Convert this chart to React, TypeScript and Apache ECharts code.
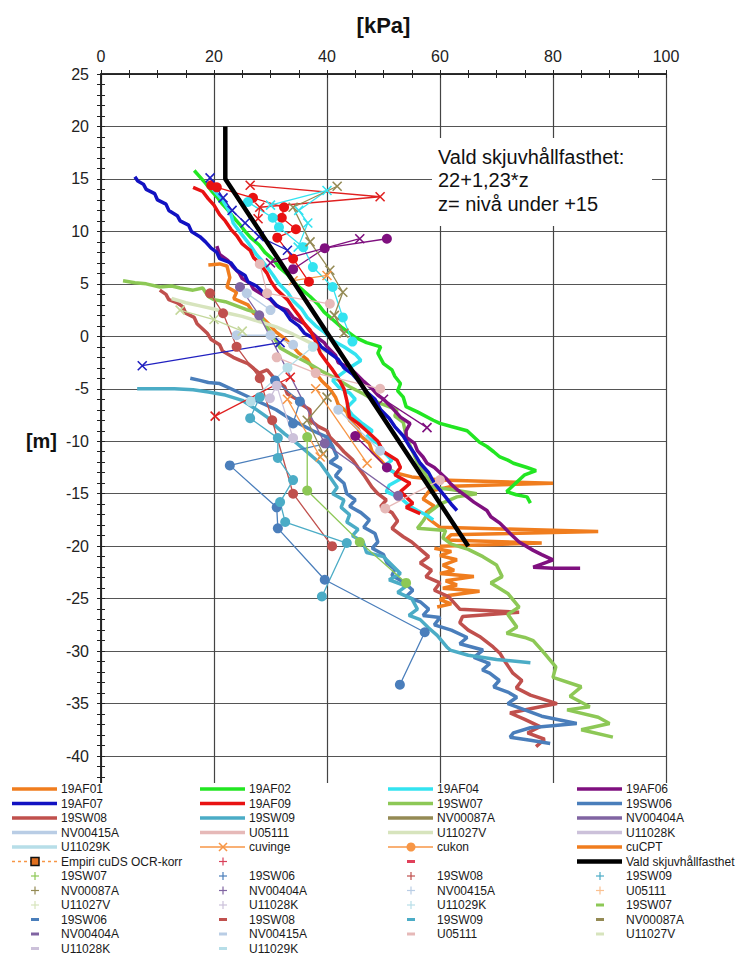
import React, { useEffect, useRef } from "react";
import * as echarts from "echarts";

const FONT = "'Liberation Sans', Arial, Helvetica, sans-serif";

// ---- axis ----
const xMin = 0, xMax = 100, xStep = 20;
const yMin = -45, yMax = 25, yStep = 5;

// ---- thick profiles [kPa, m] ----
const af01 = [[19,6.8],[21,6.9],[22.3,6.7],[22.8,5.6],[22.3,4.7],[24,4.2],[23.5,3.6],[26,3],[27,2.2],[28.5,1.8],[30,1],[31,0.4],[32.5,-0.2],[34,-1],[35,-1.6],[36.5,-2.2],[38,-3.5],[39,-4.2],[40.5,-5],[41.5,-5.8],[42,-6.5],[43.5,-7.2],[44,-8],[45.5,-8.8],[46,-9.5],[47.5,-10.2],[48,-11],[49.5,-11.8],[50.6,-12.5],[52,-13],[55,-13.4],[60,-13.7],[80,-14],[62,-14.3],[58,-14.8],[57,-15.5],[59,-16.2],[57.5,-16.8],[58,-17.4],[60,-18.2],[88,-18.6],[62,-18.9],[61,-19.4],[78,-19.7],[60,-20]];
const af02 = [[16.5,15.8],[17.5,15.2],[18.5,14.6],[19.5,13.9],[20.5,13.3],[21.5,12.6],[22.5,12],[23.5,11.3],[24.5,10.7],[25.5,10],[26.5,9.4],[28,8.7],[29,8],[30.5,7.3],[31.5,6.6],[33,5.9],[34,5.2],[35.5,4.5],[37,3.8],[38.5,3],[39.5,2.3],[41,1.6],[42.5,0.9],[44,0.3],[45,-0.1],[47,-0.6],[49.5,-1],[49,-1.6],[50,-2.6],[51.5,-3.2],[52,-3.8],[53,-4.5],[52.5,-5.2],[53.5,-5.8],[54,-6.7],[56,-7.2],[58.8,-8],[60,-8.3],[62,-8.6],[64.8,-9],[66,-9.6],[67,-10.1],[68.3,-10.5],[69.5,-11],[70.6,-11.5],[72,-11.8],[73,-12.1],[75.4,-12.5],[77,-12.8],[75,-13.2],[74,-13.7],[73,-14.2],[71.8,-14.8],[73.5,-15.1],[75.4,-15.3],[76,-15.9]];
const af04 = [[19.6,14.2],[20.5,13.6],[21.5,13],[22.3,12.3],[23,11.6],[23.4,10.8],[24.5,10],[25.8,9.1],[26.5,8.6],[27.5,7.8],[28.5,7.2],[29.4,6.6],[30.5,5.8],[31.5,5],[33,4.2],[34,3.4],[35.5,2.6],[36.5,1.8],[38,1],[39.5,0.4],[41,-0.4],[43,-1],[45,-1.7],[46,-2.3],[44,-3],[42.5,-3.6],[41,-4.2],[42,-4.8],[44,-5.4],[45,-6],[43.5,-6.8],[44.5,-7.5],[46,-8.2],[48,-9],[47,-9.6],[49,-10.2],[50,-11],[51.5,-11.8],[50,-12.4],[52,-13],[53,-13.6],[51,-14.2],[50.5,-14.8],[53,-15.4],[54.7,-16.2],[56,-16.6],[57.5,-17],[58.8,-17.5]];
const af06 = [[20.5,8.6],[21,7.8],[22.5,7.2],[23.4,6.6],[24.5,6],[25,5.5],[26.5,5],[27,4.5],[28.5,4],[30,3.5],[31,2.9],[33,2.5],[34,1.8],[36,1.2],[37,0.5],[38,0],[39.5,-0.6],[40,-1],[41.5,-1.8],[42,-2.5],[44,-3],[45,-3.5],[46.5,-4.3],[48,-5],[49,-5.6],[50,-6],[51.5,-6.8],[53,-7.7],[54.7,-8.3],[54,-9],[54,-9.6],[55.5,-10.2],[56,-10.9],[57,-11.5],[57.7,-12.1],[59,-12.5],[60,-13],[61,-13.5],[61.8,-14],[63,-14.6],[64.8,-15.3],[66,-15.8],[68.3,-16.6],[69,-17.2],[70.6,-17.8],[71.5,-18.3],[72.4,-18.8],[74,-19.6],[76.5,-20.4],[78,-20.8],[80,-21.3],[78,-21.7],[76.5,-22],[80,-22.1],[84.8,-22.1]];
const af07 = [[6,15.2],[6.5,14.8],[7.5,14.5],[8,14],[9.5,13.6],[10,13],[11.5,12.6],[12,12],[13.5,11.5],[14,11],[15.5,10.6],[16,10],[17.5,9.5],[18.5,9],[19.5,8.4],[20.5,8],[21,7.4],[23,7],[24,6.3],[25.5,5.8],[26,5.2],[27.5,4.8],[28.5,4.3],[30,3.6],[31,3],[32.5,2.4],[33.5,1.6],[35,1],[36,0.3],[38,-0.3],[39,-1],[40.5,-1.6],[42,-2.2],[43,-3],[44.5,-3.6],[46,-4.5],[47,-5.3],[48.5,-6],[49.5,-7],[51,-7.8],[52,-8.6],[53.5,-9.5],[54.5,-10.4],[55.5,-11.2],[56.5,-12.1],[58,-13],[59,-14],[60.5,-15],[62,-16],[63,-16.6]];
const af09 = [[16.3,14.2],[18,13.8],[19,13.1],[20,12.5],[21,11.6],[22,11],[23,10.2],[24,9.6],[25,8.8],[26.4,8.2],[27,7.5],[28,7],[29.4,6],[30,5.3],[31,4.5],[32,4],[33,3.5],[34,2.7],[35,2],[36,1.2],[37,0.6],[38,-0.5],[38.8,-1.6],[40,-2.5],[41,-3.2],[42,-4],[43,-5],[43.5,-6.1],[44,-7.7],[45.5,-8.3],[47,-9],[48,-9.5],[49,-10],[50,-11],[52.4,-11.8],[53,-12.5],[52,-13.2],[54.7,-14],[53,-14.8],[55.2,-15.9],[54,-16.3],[56.5,-16.9]];
const sw07 = [[3.9,5.3],[6,5.1],[8,5],[10.4,4.7],[12.5,4.8],[14,4.6],[16.3,4.4],[18,4.6],[19,3.8],[20,3.5],[22,3.3],[24,2.9],[26,2.5],[28,2.2],[29,1.2],[30.5,0],[31.7,-1.1],[34,-1.8],[36.5,-2.5],[39,-3.3],[41.5,-4],[44,-4.8],[46.5,-5.5],[49,-6.3],[52.4,-7],[52,-7.6],[53.5,-8.2],[54,-9.5],[55,-10.8],[56,-12],[57.5,-13.2],[58.8,-14.4],[62,-14.6],[66.5,-15],[63,-15.3],[60,-16],[58,-16.8],[57,-17.6],[56,-18.3],[61,-18.5],[60.5,-19.2],[62,-19.8],[65,-20.3],[67.6,-21],[70,-21.8],[71,-22.9],[69,-23.5],[72,-24.5],[74,-25.8],[72,-26.5],[73.6,-27.7],[71.8,-28.3],[75,-28.7],[76.5,-29],[78,-29.9],[80.5,-31.5],[80,-32.5],[85,-33.4],[83,-34.3],[86.5,-35.3],[82.5,-35.6],[88,-36.3],[90,-36.9],[85,-37.5],[90.6,-38.2]];
const sw06 = [[15.8,-4],[17.5,-4.2],[19,-4.4],[21,-4.5],[23,-5],[25,-5.5],[27,-6],[29,-6.5],[31,-7],[33,-7.7],[35,-8.3],[37.5,-9],[40,-9.6],[41,-10.5],[41.8,-11.5],[40.5,-12],[42.5,-12.6],[41.5,-13.3],[43,-14],[43.5,-15],[45,-15.6],[44,-16.2],[46,-16.8],[47.5,-17.5],[46.5,-18.2],[48.5,-18.8],[49,-19.6],[48,-20.2],[50,-20.8],[50.6,-21.6],[52,-22.2],[51.5,-22.8],[53.5,-23.4],[55.2,-24.2],[54,-24.8],[56.5,-25.3],[58,-26],[57,-26.6],[60,-26.8],[59,-27.5],[62,-28],[64.8,-28.7],[63.5,-29.3],[67.6,-29.9],[66,-30.6],[68.8,-31.2],[67.5,-31.8],[68.8,-32.1],[70.5,-32.8],[69.5,-33.4],[72,-33.9],[73.6,-34.4],[72,-35],[75,-35.6],[78,-36.2],[84.2,-36.9],[76,-37.3],[73,-37.8],[72.4,-38.2],[76,-38.5],[79.5,-38.8]];
const sw08 = [[10.4,4.4],[11.5,4],[12,3.5],[13.5,3.2],[14.5,2.8],[15,2.2],[16.5,1.8],[17,1.2],[18.8,0.3],[19.5,-0.3],[21,-0.8],[21.5,-1.4],[23.4,-2],[24.6,-2.3],[26,-2.6],[28,-3.5],[29.4,-3.2],[31,-4.2],[32.5,-4.8],[33,-5.5],[35,-6.1],[35.5,-6.5],[37,-7],[37,-8],[38.5,-8.6],[40,-9],[40.5,-9.6],[42,-10.4],[43,-11],[44.6,-11.8],[45.5,-12.5],[46.5,-13.2],[48,-14.4],[49,-15],[50.5,-15.6],[49.5,-16.2],[51.5,-16.8],[52.5,-17.6],[51.5,-18.3],[53.5,-19.1],[55,-19.6],[56.5,-20.3],[58,-21],[56.5,-21.6],[58.5,-22.3],[57.5,-22.9],[60,-23.5],[59,-24.2],[61.5,-24.8],[63.5,-26],[74,-26.3],[64,-26.7],[63.5,-27.3],[65,-28],[67,-28.6],[69.4,-29.6],[70.6,-30.2],[71.5,-31],[72.9,-32.1],[74.5,-32.8],[73.5,-33.5],[76,-34.2],[80.7,-35],[76,-35.5],[72.4,-35.9],[75,-36.5],[77.7,-37.2],[75.5,-37.8],[78.5,-38.4],[77,-39.1]];
const sw09 = [[6.4,-5],[10,-5],[13,-5],[16.3,-5.1],[19,-5.3],[22,-5.6],[25,-6.1],[27,-6.8],[29.4,-7.7],[31,-8.6],[32.5,-9.3],[34,-9.9],[36,-10.8],[37.5,-11.5],[38.8,-12.1],[40,-13],[41.8,-14.4],[41,-15],[43,-15.6],[42.5,-16.3],[44,-17],[43.5,-17.7],[45.5,-18.4],[44.5,-19],[46.4,-19.6],[47,-20.6],[50,-21],[53,-22.6],[51,-23.2],[54,-23.8],[52.5,-24.4],[55,-25],[56,-26],[54.5,-26.6],[56.5,-27],[58,-27.8],[59.5,-28.5],[61.2,-29.6],[61.8,-29.9],[65,-30.4],[70,-30.8],[76,-31.1]];
const u11027v = [[12.5,3.6],[15,3.2],[17.5,2.9],[20,2.6],[22.5,2.2],[25,1.9],[28,1.4],[31,0.9],[34,0.2],[37,-0.6],[40,-1.5]];
const cuCpt = [[59,-20.2],[62,-20.5],[60,-20.9],[63,-21.3],[60.5,-21.8],[62.5,-22.3],[60,-22.6],[66,-22.9],[61,-23.3],[63,-23.7],[60.5,-24],[67,-24.3],[61.5,-24.7],[60,-25.1],[62,-25.5],[59.5,-25.8]];
const vald = [[22,20],[22,15],[65,-20]];

// ---- cukon (circles) ----
const konRed = [[19.5,14.4],[20.5,14.2],[26.9,13.2],[32.4,12.3],[32,11.3],[34.5,10.2],[31.2,9.4],[34,7.4],[36.8,5.2]];
const konBrick = [[19.3,4.1],[21.6,2.2],[24,-1],[28.1,-4],[30.3,-8],[34,-15],[40.9,-20]];
const konSteelA = [[30.8,-4.2],[35.2,-6.2],[34,-8.3]];
const konSteelB = [[40,-10.2],[22.8,-12.3],[31.1,-16.3],[31.3,-18.3],[39.6,-23.2],[57.3,-28.2],[52.9,-33.2]];
const konTeal = [[28.1,-5.8],[26.4,-7.8],[31.3,-9.7],[31.3,-11.6],[34,-13.7],[31.7,-15.8],[32.6,-17.7],[43.5,-19.7],[39.1,-24.8]];
const konGreen = [[36.5,-9.6],[36.5,-14.7],[45.8,-19.6],[54,-23.5]];
const konPurple = [[34,6.4],[39.6,8.4],[50.6,9.3]];
const konPurple2 = [[45,-9.5],[50.6,-12.5]];
const konNV404 = [[24.6,4.7],[28,2],[39.6,-10.2],[52.6,-15.2]];
const konPink = [[28.1,6.9],[29.4,4.1],[40.5,3.1]];
const konPink2 = [[31.1,-2],[38,-3.5],[49.4,-5]];
const konPink3 = [[60,-13.7],[50.3,-16.4]];
const konLightBlue = [[24,0.1],[30,0.1],[34,-0.8]];
const konLightBlue2 = [[25.8,4.1],[30,2.5]];
const konLightBlue3 = [[42,-7],[49.4,-10.9]];
const konLavender = [[29.9,-5.9],[31.1,-4.7],[34,-9.7]];
const konCyan = [[26,12.8],[30.4,11.3],[31.5,10.4],[35.8,8.5],[37.5,6.6],[41,4.7],[42.8,1.8],[44.5,-0.5]];
const konLightCyan = [[37.5,-1],[33,-3],[26.5,-6.2]];

// ---- cuvinge (crosses) ----
const vaneRed = [[26.4,14.4],[49.4,13.3],[28.1,12.3],[27.8,11.2]];
const vaneRed2 = [[20.2,-7.6],[33.5,-3.9]];
const vaneBlue = [[19.3,15.1],[21.6,13.2],[23.2,12],[25.5,10.8],[28,9.5],[33,8.2]];
const vaneBlue2 = [[7.3,-2.8],[31.7,-0.6]];
const vaneCyan = [[30,12.5],[40,13.9],[35,12],[36.6,10.8],[34.9,8.5]];
const vaneOlive = [[41.8,14.3],[34,12.3],[37,9],[40.5,6.3],[42.8,4.2],[41.3,2],[43,0.3]];
const vaneOlive2 = [[40,-5.8],[36.5,-8],[39.3,-11.2]];
const vanePurple = [[30,7],[45.8,9.3]];
const vanePurple2 = [[50,-6],[57.7,-8.7]];
const vaneOrange = [[34,5.3],[40,5.8]];
const vaneOrange2 = [[38,-5],[47.1,-12.1]];
const vaneOrange3 = [[33,-6],[38.8,-11.5]];
const vanePale = [[14,2.5],[20,1.6],[25,0.5]];

// ---- legend ----
const legendNames = [
  "19AF01","19AF02","19AF04","19AF06",
  "19AF07","19AF09","19SW07","19SW06",
  "19SW08","19SW09","NV00087A","NV00404A",
  "NV00415A","U05111","U11027V","U11028K",
  "U11029K","cuvinge","cukon","cuCPT",
  "Empiri cuDS OCR-korr","","","Vald skjuvhållfasthet",
  "19SW07","19SW06","19SW08","19SW09",
  "NV00087A","NV00404A","NV00415A","U05111",
  "U11027V","U11028K","U11029K","19SW07",
  "19SW06","19SW08","19SW09","NV00087A",
  "NV00404A","NV00415A","U05111","U11027V",
  "U11028K","U11029K",
];
const legendKinds = [
  "line","line","line","line",
  "line","line","line","line",
  "line","line","line","line",
  "line","line","line","line",
  "line","vane","kon","line",
  "empiri","plus","dash","bold",
  "plus","plus","plus","plus",
  "plus","plus","plus","plus",
  "plus","plus","plus","dash",
  "dash","dash","dash","dash",
  "dash","dash","dash","dash",
  "dash","dash",
];
const legendColors = [
  "#F07D1E","#22E622","#33E3F0","#7F107F",
  "#1212C2","#E81212","#8DC856","#4A7EBB",
  "#C0504D","#4BACC6","#948A54","#8064A2",
  "#B9CDE5","#E6B9B8","#D7E4BD","#CCC1DA",
  "#B7DEE8","#F79646","#F79646","#F07D1E",
  "#F79646","#D9405A","#E0405A","#000000",
  "#8DC856","#4A7EBB","#C0504D","#4BACC6",
  "#948A54","#8064A2","#B9CDE5","#FAC090",
  "#D7E4BD","#CCC1DA","#B7DEE8","#8DC856",
  "#4A7EBB","#C0504D","#4BACC6","#948A54",
  "#8064A2","#B9CDE5","#E6B9B8","#D7E4BD",
  "#CCC1DA","#B7DEE8",
];

const X_PATH = "path://M0,0L10,10M10,0L0,10";

function profile(name: string, color: string, data: number[][], width = 3.5, z = 2) {
  return {
    type: "line", name, data, symbol: "none", showSymbol: false,
    lineStyle: { color, width }, itemStyle: { color }, z, silent: true,
  };
}
function kon(color: string, data: number[][]) {
  return {
    type: "line", name: "cukon", data, symbol: "circle", symbolSize: 10, showSymbol: true,
    lineStyle: { color, width: 1.3 }, itemStyle: { color }, z: 3, silent: true,
  };
}
function vane(color: string, data: number[][]) {
  return {
    type: "line", name: "cuvinge", data, symbol: X_PATH, symbolSize: 9, showSymbol: true,
    lineStyle: { color, width: 1.3 },
    itemStyle: { color, borderColor: color, borderWidth: 1.6 }, z: 3, silent: true,
  };
}

function buildLegend() {
  const colX = [12, 200, 388, 577];
  const els: any[] = [];
  legendNames.forEach((name, i) => {
    const col = i % 4;
    const row = Math.floor(i / 4);
    const x0 = colX[col];
    const y = 789 + row * 14.5;
    const c = legendColors[i];
    const k = legendKinds[i];
    const cx = x0 + 23;
    if (k === "line" || k === "bold") {
      els.push({ type: "line", z: 101, shape: { x1: x0, y1: y, x2: x0 + 45, y2: y }, style: { stroke: c, lineWidth: k === "bold" ? 4.5 : 3.5 } });
    } else if (k === "vane") {
      els.push({ type: "line", z: 101, shape: { x1: x0, y1: y, x2: x0 + 45, y2: y }, style: { stroke: c, lineWidth: 1.5 } });
      els.push({ type: "line", z: 101, shape: { x1: cx - 4, y1: y - 4, x2: cx + 4, y2: y + 4 }, style: { stroke: c, lineWidth: 1.6 } });
      els.push({ type: "line", z: 101, shape: { x1: cx + 4, y1: y - 4, x2: cx - 4, y2: y + 4 }, style: { stroke: c, lineWidth: 1.6 } });
    } else if (k === "kon") {
      els.push({ type: "line", z: 101, shape: { x1: x0, y1: y, x2: x0 + 45, y2: y }, style: { stroke: c, lineWidth: 1.5 } });
      els.push({ type: "circle", z: 101, shape: { cx, cy: y, r: 4.5 }, style: { fill: c } });
    } else if (k === "empiri") {
      els.push({ type: "line", z: 101, shape: { x1: x0, y1: y, x2: x0 + 45, y2: y }, style: { stroke: c, lineWidth: 1.3, lineDash: [3, 3] } });
      els.push({ type: "rect", z: 101, shape: { x: cx - 4, y: y - 4, width: 8, height: 8 }, style: { fill: "#E07020", stroke: "#111", lineWidth: 1.5 } });
    } else if (k === "plus") {
      els.push({ type: "line", z: 101, shape: { x1: cx - 4, y1: y, x2: cx + 4, y2: y }, style: { stroke: c, lineWidth: 1.2 } });
      els.push({ type: "line", z: 101, shape: { x1: cx, y1: y - 4, x2: cx, y2: y + 4 }, style: { stroke: c, lineWidth: 1.2 } });
    } else if (k === "dash") {
      els.push({ type: "line", z: 101, shape: { x1: cx - 4, y1: y, x2: cx + 4, y2: y }, style: { stroke: c, lineWidth: 3 } });
    }
    if (name) {
      els.push({
        type: "text", z: 101, x: x0 + 49, y,
        style: { text: name, fontSize: 12, fontFamily: FONT, fill: "#1a1a1a", verticalAlign: "middle", align: "left" },
      });
    }
  });
  return els;
}

export default function App() {
  const ref = useRef<HTMLDivElement>(null);
  useEffect(() => {
    if (!ref.current) return;
    const chart = echarts.init(ref.current, undefined, { renderer: "svg" });
    const axisCommon = {
      type: "value",
      axisLine: { show: true, onZero: false, lineStyle: { color: "#222", width: 1.5 } },
    };
    const option: any = {
      animation: false,
      backgroundColor: "#fff",
      textStyle: { fontFamily: FONT },
      grid: { left: 101, right: 75, top: 74, bottom: 148.5, containLabel: false },
      xAxis: [
        {
          ...axisCommon, position: "top", min: xMin, max: xMax, interval: xStep,
          axisTick: { show: true, length: 4, lineStyle: { color: "#222" } },
          minorTick: { show: true, splitNumber: 4, length: 4, lineStyle: { color: "#222" } },
          axisLabel: { fontSize: 16, color: "#222", margin: 10, fontFamily: FONT },
          splitLine: { show: true, lineStyle: { color: "#444", width: 1.2 } },
          name: "[kPa]", nameLocation: "middle", nameGap: 38,
          nameTextStyle: { fontSize: 22, fontWeight: "bold", color: "#111", fontFamily: FONT },
        },
        {
          ...axisCommon, position: "top", min: xMin, max: xMax, interval: xStep,
          axisTick: { show: true, inside: true, length: 4, lineStyle: { color: "#222" } },
          minorTick: { show: true, splitNumber: 4, length: 4, lineStyle: { color: "#222" } },
          axisLabel: { show: false }, splitLine: { show: false },
        },
      ],
      yAxis: [
        {
          ...axisCommon, position: "left", min: yMin, max: yMax, interval: yStep,
          axisTick: { show: true, length: 4, lineStyle: { color: "#222" } },
          minorTick: { show: true, splitNumber: 5, length: 4, lineStyle: { color: "#222" } },
          axisLabel: {
            fontSize: 16, color: "#222", margin: 12, fontFamily: FONT,
            formatter: (v: number) => (v < -40 ? "" : String(v)),
          },
          splitLine: { show: true, lineStyle: { color: "#555", width: 1.2 } },
          name: "[m]", nameLocation: "middle", nameGap: 44, nameRotate: 0,
          nameTextStyle: { fontSize: 20, fontWeight: "bold", color: "#111", fontFamily: FONT },
        },
        {
          ...axisCommon, position: "left", min: yMin, max: yMax, interval: yStep,
          axisTick: { show: true, inside: true, length: 4, lineStyle: { color: "#222" } },
          minorTick: { show: true, splitNumber: 5, length: 4, lineStyle: { color: "#222" } },
          axisLabel: { show: false }, splitLine: { show: false },
        },
      ],
      series: [
        profile("19AF01", "#F07D1E", af01),
        profile("cuCPT", "#F07D1E", cuCpt),
        profile("19SW08", "#C0504D", sw08),
        profile("19SW06", "#4A7EBB", sw06),
        profile("19SW09", "#4BACC6", sw09),
        profile("19SW07", "#8DC856", sw07),
        profile("U11027V", "#D7E4BD", u11027v),
        profile("19AF06", "#7F107F", af06),
        profile("19AF02", "#22E622", af02),
        profile("19AF04", "#33E3F0", af04),
        profile("19AF07", "#1212C2", af07),
        profile("19AF09", "#E81212", af09),
        kon("#E81212", konRed),
        kon("#C0504D", konBrick),
        kon("#4A7EBB", konSteelA),
        kon("#4A7EBB", konSteelB),
        kon("#4BACC6", konTeal),
        kon("#8DC856", konGreen),
        kon("#7F107F", konPurple),
        kon("#7F107F", konPurple2),
        kon("#8064A2", konNV404),
        kon("#E6B9B8", konPink),
        kon("#E6B9B8", konPink2),
        kon("#E6B9B8", konPink3),
        kon("#B9CDE5", konLightBlue),
        kon("#B9CDE5", konLightBlue2),
        kon("#B9CDE5", konLightBlue3),
        kon("#CCC1DA", konLavender),
        kon("#33E3F0", konCyan),
        kon("#B7DEE8", konLightCyan),
        vane("#E02020", vaneRed),
        vane("#E02020", vaneRed2),
        vane("#2020C0", vaneBlue),
        vane("#2020C0", vaneBlue2),
        vane("#33E3F0", vaneCyan),
        vane("#948A54", vaneOlive),
        vane("#948A54", vaneOlive2),
        vane("#7F107F", vanePurple),
        vane("#7F107F", vanePurple2),
        vane("#F79646", vaneOrange),
        vane("#F79646", vaneOrange2),
        vane("#F79646", vaneOrange3),
        vane("#C4D79B", vanePale),
        profile("Vald skjuvhållfasthet", "#000000", vald, 4.5, 5),
      ],
      graphic: [
        { type: "rect", z: 100, shape: { x: 86, y: 783, width: 590, height: 40 }, style: { fill: "#fff" } },
        { type: "rect", z: 100, shape: { x: 432, y: 138, width: 220, height: 88 }, style: { fill: "#fff" } },
        {
          type: "text", z: 101, x: 438, y: 145,
          style: {
            text: "Vald skjuvhållfasthet:\n22+1,23*z\nz= nivå under +15",
            fontSize: 20, lineHeight: 23.5, fontFamily: FONT, fill: "#111",
          },
        },
        ...buildLegend(),
      ],
    };
    chart.setOption(option);
    return () => chart.dispose();
  }, []);
  return (
    <div
      ref={ref}
      style={{ position: "absolute", left: 0, top: 0, width: 741, height: 957, background: "#fff" }}
    />
  );
}
